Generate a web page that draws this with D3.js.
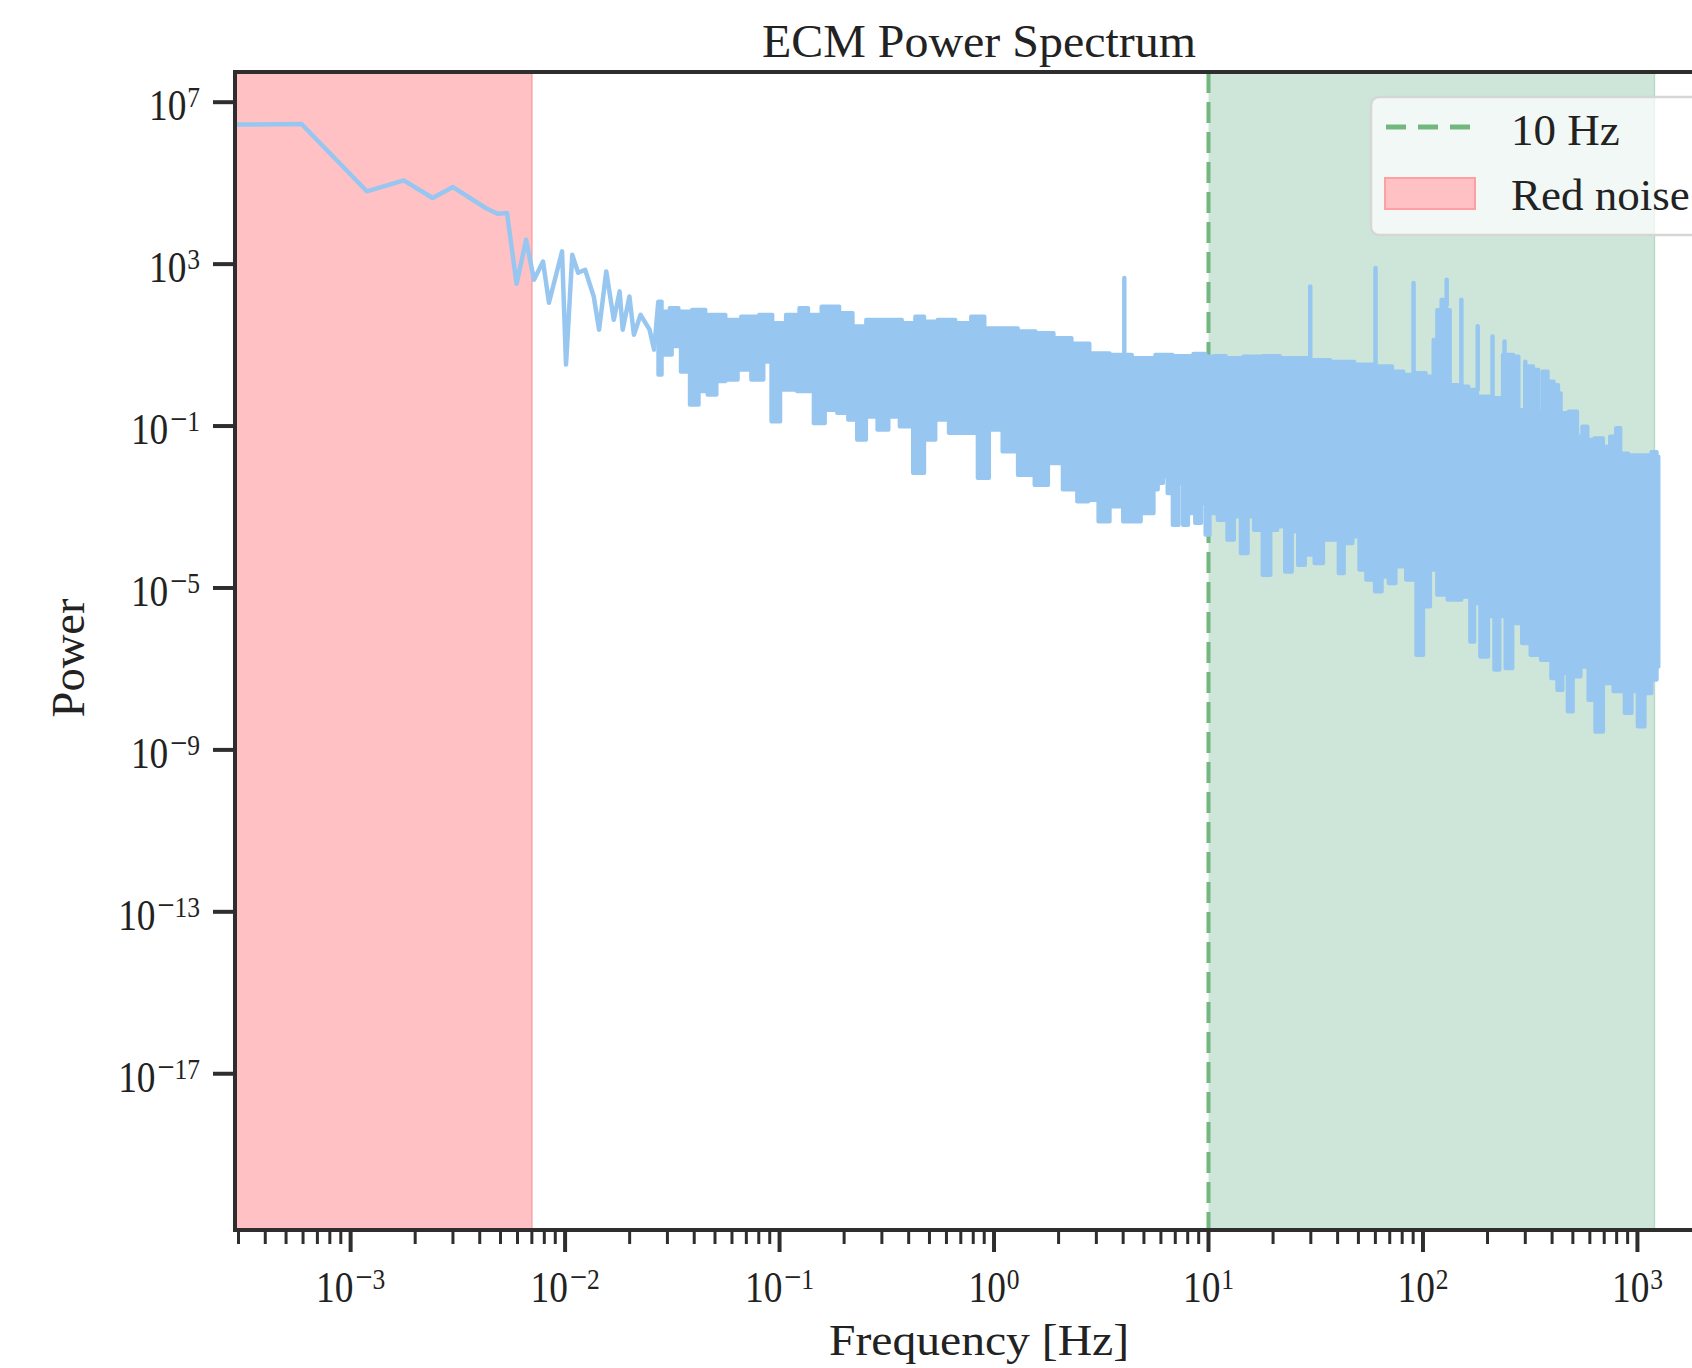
<!DOCTYPE html>
<html lang="en">
<head>
<meta charset="UTF-8">
<title>ECM Power Spectrum</title>
<script src="https://d3js.org/d3.v7.min.js"></script>
<style>
  body { margin: 0; background: #fff; }
  svg { display: block; font-family: "Liberation Serif", "DejaVu Serif", serif; }
</style>
</head>
<body>
<div id="chart"></div>
<script>
// low-frequency part of the spectrum, drawn as a single line
const lowFreq = [2.89e-4, 5.9e-4, 1.19e-3, 1.77e-3, 2.41e-3, 3.0e-3, 4.28e-3, 4.84e-3, 5.36e-3,
  5.94e-3, 6.58e-3, 7.16e-3, 7.89e-3, 8.41e-3, 9.68e-3, 1.01e-2, 1.08e-2, 1.15e-2, 1.24e-2,
  1.36e-2, 1.44e-2, 1.556e-2, 1.687e-2, 1.796e-2, 1.856e-2, 1.995e-2, 2.094e-2, 2.249e-2,
  2.477e-2, 2.60e-2, 2.72e-2];
const lowPower = [2.8e6, 2.9e6, 6.3e4, 1.17e5, 4.3e4, 8.0e4, 2.4e4, 1.76e4, 1.83e4,
  327, 4000, 411, 1160, 111, 2060, 3.3, 1700, 612, 726,
  159, 24, 661, 42, 212, 24, 159, 18, 56,
  24, 7.7, 120];

// dense part: upper edge of the band
const upperFreq = [0.0272, 0.0293, 0.0322, 0.0355, 0.0430, 0.0473, 0.0521, 0.0601, 0.0728, 0.0883,
  0.0971, 0.118, 0.1295, 0.1426, 0.1726, 0.209, 0.230, 0.279, 0.338, 0.409, 0.450, 0.496, 0.600,
  0.727, 0.840, 0.970, 1.175, 1.42, 1.72, 2.09, 2.53, 3.07, 3.90, 4.95, 5.35, 5.97, 7.74, 9.33,
  10.05, 11.2, 13.0, 16.3, 19.6, 23.6, 27.4, 31.8, 42.8, 53.5, 66.7, 77.4, 84.9, 96.6, 110, 114,
  119, 125, 132, 135, 157, 169, 189, 219, 254, 274, 284, 317, 336, 355, 368, 396, 419, 435, 443,
  514, 533, 574, 596, 666, 718, 773, 817, 848, 966, 1120, 1207, 1253];
const upperPower = [120, 68, 82, 68, 75, 56, 56, 42, 51, 56,
  35, 56, 82, 56, 90, 62, 29, 42, 42, 35, 51, 38, 42,
  35, 51, 26, 26, 22, 20, 15, 11, 6.3, 5.8, 4.8, 4.8, 5.8, 5.4, 6.1,
  5.2, 5.4, 4.8, 5.2, 5.4, 4.8, 4.8, 4.3, 3.9, 3.3, 3.0, 2.23, 1.85, 2.03, 1.68, 13.5,
  74, 131, 74, 1.04, 0.95, 0.79, 0.54, 0.49, 5.8, 5.2, 0.25, 3.0, 2.45, 0.21, 2.23, 1.26, 1.04, 0.65, 0.21,
  0.23, 0.055, 0.098, 0.046, 0.050, 0.031, 0.055, 0.089, 0.021, 0.019, 0.019, 0.023, 0.0177];

// dense part: lower edge of the band
const lowerFreq = [0.0272, 0.0293, 0.0338, 0.0355, 0.0410, 0.0430, 0.0496, 0.0521, 0.0601, 0.0678,
  0.0802, 0.0883, 0.0949, 0.107, 0.136, 0.153, 0.173, 0.199, 0.219, 0.241, 0.266, 0.307, 0.338,
  0.390, 0.450, 0.496, 0.573, 0.661, 0.80, 0.88, 1.02, 1.175, 1.42, 1.68, 1.90, 2.30, 2.59, 2.92,
  3.22, 3.72, 4.29, 5.45, 5.65, 5.97, 6.32, 6.56, 7.06, 7.47, 7.74, 8.34, 8.99, 9.5, 9.86, 10.4,
  11.7, 12.8, 13.5, 14.8, 15.7, 16.9, 18.9, 20.0, 21.9, 23.6, 25.4, 26.9, 29.5, 33.0, 35.5, 39.7,
  41.2, 44.4, 49.6, 51.4, 57.5, 61.9, 66.7, 71.8, 77.4, 89.8, 96.6, 104, 112, 121, 140, 163, 169,
  178, 192, 211, 219, 236, 249, 274, 306, 329, 382, 411, 435, 460, 486, 514, 574, 608, 666, 718,
  832, 914, 966, 1041, 1120, 1207, 1253];
const lowerPower = [1.85, 5.8, 9.3, 2.2, 0.335, 0.72, 0.59, 1.27, 1.39, 2.45,
  1.39, 3.9, 0.13, 0.79, 0.72, 0.118, 0.25, 0.21, 0.143, 0.046, 0.17, 0.081, 0.17,
  0.098, 0.0069, 0.046, 0.143, 0.067, 0.067, 0.0052, 0.081, 0.0235, 0.0062, 0.0035, 0.012, 0.0027, 0.00137, 0.0015,
  4.4e-4, 1.03e-3, 4.4e-4, 7.0e-4, 2.7e-3, 3.9e-3, 5.7e-3, 2.2e-3, 3.6e-4, 3.9e-3, 3.6e-4, 7.0e-4, 4.0e-4, 1.24e-3, 2.05e-4, 7.0e-4,
  4.8e-4, 1.55e-4, 5.8e-4, 7.2e-5, 5.8e-4, 2.7e-4, 2.1e-5, 2.7e-4, 3.3e-4, 2.5e-5, 2.5e-4, 3.7e-5, 6.6e-5, 4.1e-5, 1.55e-4, 1.55e-4,
  2.3e-5, 1.28e-4, 1.87e-4, 2.8e-5, 1.6e-5, 8.2e-6, 1.9e-5, 1.3e-5, 3.4e-5, 1.6e-5, 2.2e-7, 3.5e-6, 2.8e-5, 6.8e-6, 5.1e-6, 6.1e-6, 4.7e-7,
  4.2e-6, 2.0e-7, 2.0e-6, 9.5e-8, 2.0e-6, 1.04e-7, 1.35e-6, 4.3e-7, 2.2e-7, 1.67e-7, 5.9e-8, 3.0e-8, 7.8e-8, 8.9e-9, 6.5e-8, 1.14e-7, 1.7e-8, 2.8e-9, 4.4e-8,
  2.8e-8, 8.1e-9, 2.8e-8, 3.8e-9, 2.5e-8, 5.4e-8, 1.14e-7];

// narrow lines rising out of the band
const spikeFreq = [4.05, 29.8, 60.1, 90.4, 129, 151, 180, 211, 240, 300];
const spikePeak = [452, 281, 798, 340, 411, 131, 29, 16.3, 12.3, 3.9];
const spikeBase = [5.8, 4.8, 3.3, 2.0, 100, 1.0, 0.8, 0.5, 0.5, 0.3];

const xTickExp = [-3, -2, -1, 0, 1, 2, 3];
const yTickExp = [7, 3, -1, -5, -9, -13, -17];
const redNoiseBand = [2.89e-4, 0.007];
const highBand = [10, 1200];
const cutoffFreq = 10;

// layout
const W = 1692, H = 1368;
const plotLeft = 235, plotTop = 72, plotBottom = 1230, plotRight = 1702;

const svg = d3.select("#chart").append("svg")
  .attr("width", W).attr("height", H);

const x = d3.scaleLog().domain([2.89e-4, 2000]).range([plotLeft, plotRight]);
const y = d3.scaleLog().domain([Math.pow(10, -20.86), Math.pow(10, 7.746)]).range([plotBottom, plotTop]);

svg.append("clipPath").attr("id", "plot-clip")
  .append("rect").attr("x", plotLeft).attr("y", plotTop)
  .attr("width", plotRight - plotLeft).attr("height", plotBottom - plotTop);

const plot = svg.append("g").attr("clip-path", "url(#plot-clip)");

// shaded bands
plot.append("rect")
  .attr("x", x(redNoiseBand[0])).attr("y", plotTop)
  .attr("width", x(redNoiseBand[1]) - x(redNoiseBand[0])).attr("height", plotBottom - plotTop)
  .attr("fill", "#ffc1c4");
plot.append("line")
  .attr("x1", x(redNoiseBand[1])).attr("x2", x(redNoiseBand[1]))
  .attr("y1", plotTop).attr("y2", plotBottom)
  .attr("stroke", "#f7a3a8").attr("stroke-width", 1.5);

plot.append("rect")
  .attr("x", x(highBand[0])).attr("y", plotTop)
  .attr("width", x(highBand[1]) - x(highBand[0])).attr("height", plotBottom - plotTop)
  .attr("fill", "#cde6d9");
plot.append("line")
  .attr("x1", x(highBand[1])).attr("x2", x(highBand[1]))
  .attr("y1", plotTop).attr("y2", plotBottom)
  .attr("stroke", "#b6dac5").attr("stroke-width", 1.5);

// 10 Hz marker
plot.append("line")
  .attr("x1", x(cutoffFreq)).attr("x2", x(cutoffFreq))
  .attr("y1", plotTop).attr("y2", plotBottom)
  .attr("stroke", "#72b77e").attr("stroke-width", 4)
  .attr("stroke-dasharray", "21 9");

// spectrum
const blue = "#97c7f0";
const line = d3.line().x(d => x(d[0])).y(d => y(d[1]));

const lowPts = lowFreq.map((f, i) => [f, lowPower[i]]);
plot.append("path")
  .attr("d", line(lowPts))
  .attr("fill", "none").attr("stroke", blue)
  .attr("stroke-width", 4.5).attr("stroke-linejoin", "round");

// dense region: stepped edges give the jagged look of the many-sample spectrum
const stepLine = d3.line().x(d => x(d[0])).y(d => y(d[1])).curve(d3.curveStep);
const upperPts = upperFreq.map((f, i) => [f, upperPower[i]]);
const lowerPts = lowerFreq.map((f, i) => [f, lowerPower[i]]).reverse();
plot.append("path")
  .attr("d", stepLine(upperPts) + "L" + stepLine(lowerPts).slice(1) + "Z")
  .attr("fill", blue).attr("stroke", blue)
  .attr("stroke-width", 4).attr("stroke-linejoin", "round");

plot.selectAll(".spike")
  .data(spikeFreq)
  .join("line")
  .attr("class", "spike")
  .attr("x1", d => x(d)).attr("x2", d => x(d))
  .attr("y1", (d, i) => y(spikeBase[i])).attr("y2", (d, i) => y(spikePeak[i]))
  .attr("stroke", blue).attr("stroke-width", 4.5).attr("stroke-linecap", "round");

// spines
const spine = "#2e2e2e";
svg.append("rect")
  .attr("x", plotLeft).attr("y", plotTop)
  .attr("width", plotRight - plotLeft).attr("height", plotBottom - plotTop)
  .attr("fill", "none").attr("stroke", spine).attr("stroke-width", 4);

// x ticks: majors and minors
const [xmin, xmax] = x.domain();
const minorTicks = [];
for (let e = -4; e <= 3; e++) {
  for (let m = 2; m <= 9; m++) {
    const v = m * Math.pow(10, e);
    if (v >= xmin && v <= xmax) minorTicks.push(v);
  }
}
svg.selectAll(".xminor").data(minorTicks).join("line")
  .attr("class", "xminor")
  .attr("x1", d => x(d)).attr("x2", d => x(d))
  .attr("y1", plotBottom).attr("y2", plotBottom + 14)
  .attr("stroke", spine).attr("stroke-width", 3);
svg.selectAll(".xmajor").data(xTickExp).join("line")
  .attr("class", "xmajor")
  .attr("x1", d => x(Math.pow(10, d))).attr("x2", d => x(Math.pow(10, d)))
  .attr("y1", plotBottom).attr("y2", plotBottom + 22)
  .attr("stroke", spine).attr("stroke-width", 4);

// "10" with a superscript exponent; the minus is drawn a bit wider, as in mathtext
function expLabel(sel, e) {
  sel.append("tspan").text("10");
  if (e < 0) {
    sel.append("tspan").attr("dx", 2).attr("dy", -13).attr("font-size", 36).text("\u2212");
    sel.append("tspan").attr("font-size", 30).text(String(-e));
  } else {
    sel.append("tspan").attr("dx", 1).attr("dy", -13).attr("font-size", 30).text(String(e));
  }
}

xTickExp.forEach(e => {
  const t = svg.append("text")
    .attr("transform", `translate(${x(Math.pow(10, e))},1302) scale(0.85,1)`)
    .attr("text-anchor", "middle").attr("font-size", 44).attr("fill", "#222");
  expLabel(t, e);
});

// y ticks
svg.selectAll(".ymajor").data(yTickExp).join("line")
  .attr("class", "ymajor")
  .attr("x1", plotLeft - 22).attr("x2", plotLeft)
  .attr("y1", d => y(Math.pow(10, d))).attr("y2", d => y(Math.pow(10, d)))
  .attr("stroke", spine).attr("stroke-width", 4);

yTickExp.forEach(e => {
  const t = svg.append("text")
    .attr("transform", `translate(200,${y(Math.pow(10, e)) + 18}) scale(0.85,1)`)
    .attr("text-anchor", "end").attr("font-size", 44).attr("fill", "#222");
  expLabel(t, e);
});

// titles
svg.append("text")
  .attr("x", 979).attr("y", 57)
  .attr("text-anchor", "middle").attr("font-size", 46).attr("fill", "#222")
  .attr("textLength", 434).attr("lengthAdjust", "spacingAndGlyphs")
  .text("ECM Power Spectrum");

svg.append("text")
  .attr("x", 979).attr("y", 1355)
  .attr("text-anchor", "middle").attr("font-size", 44).attr("fill", "#222")
  .attr("textLength", 300).attr("lengthAdjust", "spacingAndGlyphs")
  .text("Frequency [Hz]");

svg.append("text")
  .attr("transform", "translate(84,658) rotate(-90)")
  .attr("text-anchor", "middle").attr("font-size", 46).attr("fill", "#222")
  .attr("textLength", 119).attr("lengthAdjust", "spacingAndGlyphs")
  .text("Power");

// legend
const legend = svg.append("g");
legend.append("rect")
  .attr("x", 1371).attr("y", 97).attr("width", 420).attr("height", 138)
  .attr("rx", 8)
  .attr("fill", "#ffffff").attr("fill-opacity", 0.72)
  .attr("stroke", "#d6d6d6").attr("stroke-width", 2.5);
legend.append("line")
  .attr("x1", 1386).attr("x2", 1472).attr("y1", 127).attr("y2", 127)
  .attr("stroke", "#72b77e").attr("stroke-width", 5)
  .attr("stroke-dasharray", "20 12");
legend.append("text")
  .attr("x", 1511).attr("y", 145).attr("font-size", 45).attr("fill", "#222")
  .text("10 Hz");
legend.append("rect")
  .attr("x", 1385).attr("y", 178).attr("width", 90).attr("height", 31)
  .attr("fill", "#ffc1c4").attr("stroke", "#ff9ea3").attr("stroke-width", 2);
legend.append("text")
  .attr("x", 1511).attr("y", 210).attr("font-size", 45).attr("fill", "#222")
  .text("Red noise");
</script>
</body>
</html>
